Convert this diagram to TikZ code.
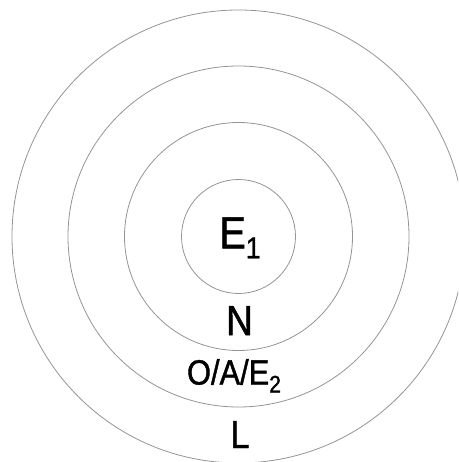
\documentclass[tikz,border=0pt]{standalone}
\usepackage{fontspec}
\setmainfont{Liberation Sans}[FakeStretch=0.88,FakeBold=1.2]
\begin{document}
\begin{tikzpicture}[x=1pt,y=1pt,
  ring/.style={draw=black!42, line width=0.8pt},
  lab/.style={anchor=base, inner sep=0pt, outer sep=0pt, text=black}]
\useasboundingbox (0,0) rectangle (458,-462);
\coordinate (c) at (238.5,-236.5);
\begin{scope}
\clip (0,0) rectangle (458,-462);
\draw[ring] (c) circle[radius=57];
\draw[ring] (c) circle[radius=114];
\draw[ring] (c) circle[radius=170.5];
\draw[ring] (c) circle[radius=226.5];
\end{scope}
\node[lab] (e1) at (240,-248.3) {\fontsize{45}{45}\selectfont E\raisebox{-10pt}{\fontsize{30}{30}\selectfont 1}};
\node[lab] (n) at (239.5,-335) {\fontsize{42}{42}\selectfont N};
\node[lab] (oae) at (234,-384.5) {\fontsize{35}{35}\selectfont O/A/E\raisebox{-8pt}{\fontsize{24}{24}\selectfont 2}};
\node[lab] (l) at (240,-448) {\fontsize{39}{39}\selectfont L};
\end{tikzpicture}
\end{document}
